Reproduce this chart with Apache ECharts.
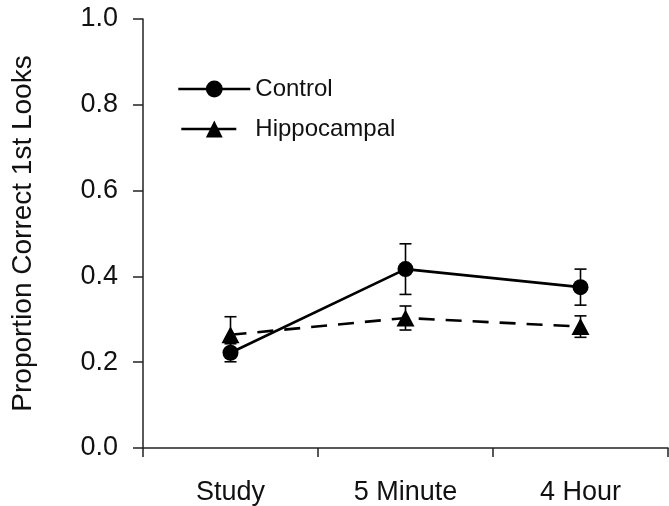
<!DOCTYPE html>
<html>
<head>
<meta charset="utf-8">
<script src="https://cdn.jsdelivr.net/npm/echarts@6/dist/echarts.min.js"></script>
<style>
  html, body { margin: 0; padding: 0; background: #fff; }
  #chart { width: 669px; height: 506px; }
</style>
</head>
<body>
<div id="chart"></div>
<script>
const categories = ['Study', '5 Minute', '4 Hour']
const controlMean = [0.222, 0.417, 0.375]
const controlErr = [0.021, 0.059, 0.042]
const hippoMean = [0.264, 0.303, 0.283]
const hippoErr = [0.042, 0.028, 0.025]
const yTicks = [0, 0.2, 0.4, 0.6, 0.8, 1.0]

const FONT = 'Liberation Sans, Arial, sans-serif'

function errorData(mean, err) {
  return mean.map((m, i) => [i, m - err[i], m + err[i]])
}

function renderErr(params, api) {
  const x = api.value(0)
  const lo = api.coord([x, api.value(1)])
  const hi = api.coord([x, api.value(2)])
  const cap = 6
  const style = { stroke: '#000', lineWidth: 1.6, fill: null }
  return {
    type: 'group',
    children: [
      { type: 'line', shape: { x1: lo[0], y1: lo[1], x2: hi[0], y2: hi[1] }, style },
      { type: 'line', shape: { x1: lo[0] - cap, y1: lo[1], x2: lo[0] + cap, y2: lo[1] }, style },
      { type: 'line', shape: { x1: hi[0] - cap, y1: hi[1], x2: hi[0] + cap, y2: hi[1] }, style }
    ]
  }
}

const chart = echarts.init(document.getElementById('chart'))
chart.setOption({
  animation: false,
  backgroundColor: '#fff',
  grid: { left: 143, right: 1, top: 19, bottom: 58, containLabel: false },
  legend: {
    orient: 'vertical',
    left: 172,
    top: 72,
    itemWidth: 72,
    itemHeight: 21,
    itemGap: 16,
    textStyle: { fontFamily: FONT, fontSize: 24, color: '#111' },
    data: [
      { name: 'Control', lineStyle: { width: 2.6 } },
      { name: 'Hippocampal', lineStyle: { type: [55, 40], dashOffset: -3, width: 2.6 } }
    ]
  },
  xAxis: {
    type: 'category',
    data: categories,
    boundaryGap: true,
    axisLine: { lineStyle: { color: '#222', width: 1.5 } },
    axisTick: { show: true, length: 9, alignWithLabel: false, lineStyle: { color: '#222', width: 1.5 } },
    axisLabel: { margin: 31, fontFamily: FONT, fontSize: 27, color: '#111' },
    splitLine: { show: false }
  },
  yAxis: {
    type: 'value',
    min: 0,
    max: 1,
    interval: 0.2,
    name: 'Proportion Correct 1st Looks',
    nameLocation: 'middle',
    nameGap: 106,
    nameTextStyle: { fontFamily: FONT, fontSize: 28, color: '#111' },
    axisLine: { show: true, lineStyle: { color: '#222', width: 1.5 } },
    axisTick: { show: true, length: 10, lineStyle: { color: '#222', width: 1.5 } },
    axisLabel: {
      margin: 25,
      fontFamily: FONT,
      fontSize: 27,
      color: '#111',
      formatter: (v) => yTicks.includes(+v.toFixed(1)) ? v.toFixed(1) : ''
    },
    splitLine: { show: false }
  },
  series: [
    {
      name: 'ControlErr',
      type: 'custom',
      renderItem: renderErr,
      data: errorData(controlMean, controlErr),
      z: 1
    },
    {
      name: 'HippoErr',
      type: 'custom',
      renderItem: renderErr,
      data: errorData(hippoMean, hippoErr),
      z: 1
    },
    {
      name: 'Control',
      type: 'line',
      data: controlMean,
      symbol: 'circle',
      symbolSize: 16,
      lineStyle: { color: '#000', width: 2.6 },
      itemStyle: { color: '#000' },
      z: 3
    },
    {
      name: 'Hippocampal',
      type: 'line',
      data: hippoMean,
      symbol: 'triangle',
      symbolSize: [18, 17],
      lineStyle: { color: '#000', width: 2.6, type: [16, 11] },
      itemStyle: { color: '#000' },
      z: 2
    }
  ]
})
</script>
</body>
</html>
